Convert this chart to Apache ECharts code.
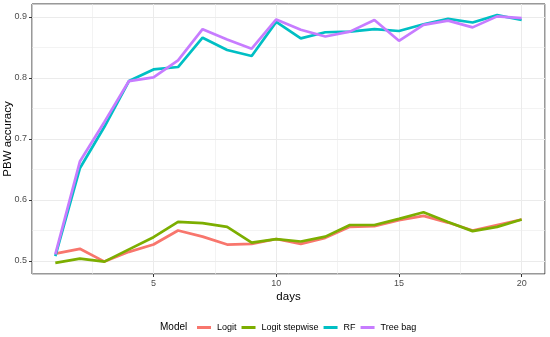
<!DOCTYPE html>
<html>
<head>
<meta charset="utf-8">
<script src="https://cdn.jsdelivr.net/npm/echarts@6/dist/echarts.min.js"></script>
<style>
html,body{margin:0;padding:0;background:#fff;}
#chart{width:550px;height:337px;}
</style>
</head>
<body>
<div id="chart"></div>
<script>
var days = [1,2,3,4,5,6,7,8,9,10,11,12,13,14,15,16,17,18,19,20];
var seriesNames = ['Logit', 'Logit stepwise', 'RF', 'Tree bag'];
var logit = [0.512,0.520,0.499,0.515,0.527,0.550,0.540,0.527,0.528,0.536,0.528,0.538,0.556,0.557,0.567,0.574,0.563,0.550,0.559,0.568];
var logitStepwise = [0.497,0.504,0.499,0.519,0.539,0.564,0.562,0.556,0.530,0.536,0.532,0.540,0.559,0.559,0.569,0.580,0.564,0.549,0.556,0.568];
var rf = [0.508,0.652,0.720,0.795,0.814,0.818,0.866,0.846,0.836,0.892,0.865,0.875,0.876,0.880,0.877,0.888,0.897,0.891,0.903,0.895];
var treeBag = [0.511,0.663,0.728,0.795,0.801,0.829,0.880,0.863,0.848,0.896,0.879,0.868,0.876,0.895,0.861,0.887,0.894,0.883,0.901,0.898];
var xTicks = [5,10,15,20];
var yTicks = [0.5,0.6,0.7,0.8,0.9];
var colors = ['#F8766D','#7CAE00','#00BFC4','#C77CFF'];

var allValues = [logit, logitStepwise, rf, treeBag];
function pairs(vals){ return days.map(function(d,i){ return [d, vals[i]]; }); }

var FONT = '"Liberation Sans", Arial, sans-serif';
var chart = echarts.init(document.getElementById('chart'), null, {renderer:'canvas'});
var gridLine = '#EBEBEB';
chart.setOption({
  animation: false,
  backgroundColor: '#ffffff',
  textStyle: {fontFamily: FONT},
  grid: {left: 32, top: 4, width: 513, height: 270, show: true, borderColor: '#333333', borderWidth: 1, backgroundColor: 'transparent', containLabel: false, outerBoundsMode: 'none'},
  xAxis: [{
    type: 'value', min: 0.05, max: 20.95, minInterval: 5, maxInterval: 5,
    name: 'days', nameLocation: 'middle', nameGap: 17, nameMoveOverlap: false,
    nameTextStyle: {color: '#000', fontSize: 11.5, fontFamily: FONT},
    axisLine: {show: false},
    axisTick: {show: true, length: 3, lineStyle: {color: '#333', width: 1}, customValues: xTicks},
    axisLabel: {color: '#4D4D4D', fontSize: 9, margin: 5, fontFamily: FONT, customValues: xTicks,
      formatter: function(v){ return String(v); }},
    splitLine: {show: true, lineStyle: {color: gridLine, width: 1}},
    z: 1
  },{
    type: 'value', min: 0.05, max: 20.95, minInterval: 2.5, maxInterval: 2.5, position: 'bottom',
    axisLine: {show: false}, axisTick: {show: false}, axisLabel: {show: false},
    splitLine: {show: true, lineStyle: {color: gridLine, width: 0.6}}
  }],
  yAxis: [{
    type: 'value', min: 0.4787, max: 0.9213, minInterval: 0.1, maxInterval: 0.1,
    name: 'PBW accuracy', nameLocation: 'middle', nameGap: 18, nameMoveOverlap: false,
    nameTextStyle: {color: '#000', fontSize: 11.5, fontFamily: FONT},
    axisLine: {show: false},
    axisTick: {show: true, length: 3, lineStyle: {color: '#333', width: 1}, customValues: yTicks},
    axisLabel: {color: '#4D4D4D', fontSize: 9, margin: 5, fontFamily: FONT, customValues: yTicks,
      formatter: function(v){ return v.toFixed(1); }},
    splitLine: {show: true, lineStyle: {color: gridLine, width: 1}}
  },{
    type: 'value', min: 0.4787, max: 0.9213, minInterval: 0.05, maxInterval: 0.05, position: 'left',
    axisLine: {show: false}, axisTick: {show: false}, axisLabel: {show: false},
    splitLine: {show: true, lineStyle: {color: gridLine, width: 0.6}}
  }],
  legend: {
    left: 192, top: 318, itemWidth: 14, itemHeight: 3, itemGap: 5, icon: 'rect',
    textStyle: {color: '#000', fontSize: 9, fontFamily: FONT, padding: [0,0,0,1]},
    data: seriesNames
  },
  graphic: [{
    type: 'text', left: 160, top: 322,
    style: {text: 'Model', fill: '#000', font: '10px ' + FONT}
  }],
  series: allValues.map(function(vals, i){
    return {
      name: seriesNames[i], type: 'line', xAxisIndex: 0, yAxisIndex: 0,
      data: pairs(vals), showSymbol: false, symbol: 'none',
      lineStyle: {color: colors[i], width: 2.7}, itemStyle: {color: colors[i]},
      z: 3 + i
    };
  })
});
</script>
</body>
</html>
